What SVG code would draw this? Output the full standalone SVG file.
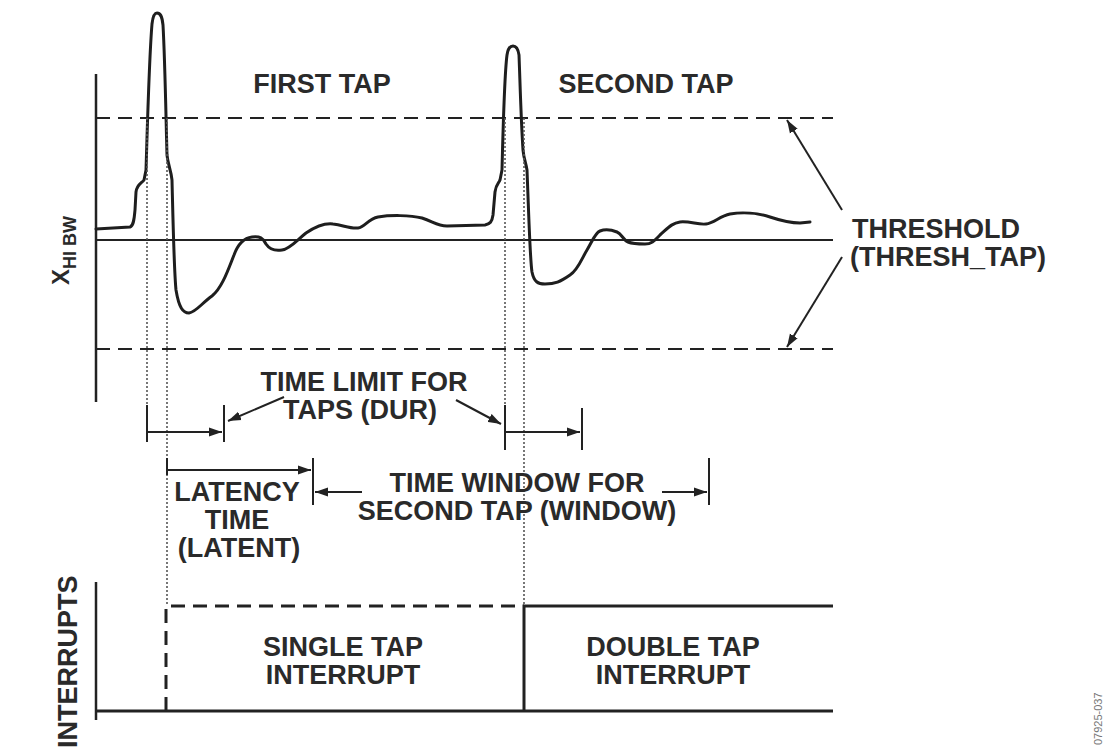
<svg xmlns="http://www.w3.org/2000/svg" width="1112" height="750" viewBox="0 0 1112 750">
<defs>
<marker id="ah" markerUnits="userSpaceOnUse" markerWidth="14" markerHeight="10" refX="13" refY="5" orient="auto">
<path d="M0,0.5 L13,5 L0,9.5 Z" fill="#222"/>
</marker>
<style>
.t{font-family:"Liberation Sans",Arial,sans-serif;font-weight:bold;font-size:27px;fill:#2a2a2a}
.ax{stroke:#222;stroke-width:2.5;fill:none}
.thin{stroke:#222;stroke-width:2;fill:none}
.dash{stroke:#222;stroke-width:2.2;stroke-dasharray:14 8;fill:none}
.dot{stroke:#555;stroke-width:1.6;stroke-dasharray:2 2;fill:none}
.wave{stroke:#1e1e1e;stroke-width:3;fill:none;stroke-linejoin:round;stroke-linecap:round}
.arr{stroke:#222;stroke-width:2;fill:none;marker-end:url(#ah)}
.sig{stroke:#222;stroke-width:3;fill:none}
.sigd{stroke:#222;stroke-width:3;stroke-dasharray:14 8;fill:none}
</style>
</defs>
<rect width="1112" height="750" fill="#fff"/>

<g id="axes">
<line class="ax" x1="96" y1="74" x2="96" y2="402"/>
<line class="thin" x1="96" y1="240" x2="833" y2="240"/>
<line class="dash" x1="96" y1="118" x2="833" y2="118"/>
<line class="dash" x1="96" y1="349" x2="833" y2="349"/>
<line class="ax" x1="96" y1="582" x2="96" y2="720"/>
</g>

<g id="waveform">
<path class="wave" d="M96,229 L130,227 C133,226 134,222 135,210 L136,192 C137,184 142,183 144,180 L146,170 C147,140 149,60 152,24 C153,15 155,13 157,13 C160,13 162,15 163,25 C165,60 166,120 167,155 C168,165 171,170 172,180 C173,220 174,270 176,290 C179,308 183,313 189,313 C196,312 202,303 212,296 C222,288 228,270 234,255 C238,244 244,238 252,237 C260,236 263,238 266,244 C270,250 276,251 282,250 C290,249 297,240 306,233 C315,227 325,223 333,224 C343,225 350,229 358,228 C365,227 368,219 378,217 C390,215 410,215 422,218 C434,222 437,226 447,226 L485,225 C490,224 492,222 493,215 L495,192 C496,184 499,183 500,180 L502,170 C503,130 505,70 507,55 C508,48 510,46 513,46 C516,46 518,48 519,55 C520,80 521,120 523,150 C524,160 526,163 527,170 C529,220 530,260 532,272 C534,282 538,284 545,284 C555,284 560,282 570,275 C578,270 582,258 587,250 C592,242 595,233 600,231 C605,229 612,230 617,232 C622,234 623,240 628,242 C633,244 640,244 645,244 C652,244 655,240 660,235 C668,228 672,223 680,222 C690,221 698,225 706,224 C714,223 720,216 730,214 C742,212 758,213 770,217 C782,221 790,223 800,223 L810,222"/>
</g>

<g id="markers">
<line class="dot" x1="147" y1="118" x2="147" y2="405"/>
<line class="dot" x1="167" y1="118" x2="167" y2="606"/>
<line class="dot" x1="505" y1="118" x2="505" y2="405"/>
<line class="dot" x1="524" y1="118" x2="524" y2="606"/>
</g>

<g id="connectors">
<line class="arr" x1="842" y1="210" x2="787" y2="120"/>
<line class="arr" x1="842" y1="257" x2="787" y2="347"/>
<line class="thin" x1="147" y1="405" x2="147" y2="442"/>
<line class="thin" x1="224" y1="405" x2="224" y2="442"/>
<line class="arr" x1="147" y1="432" x2="222" y2="432"/>
<line class="thin" x1="505" y1="405" x2="505" y2="450"/>
<line class="thin" x1="582" y1="408" x2="582" y2="450"/>
<line class="arr" x1="505" y1="432" x2="580" y2="432"/>
<line class="arr" x1="284" y1="397" x2="228" y2="421"/>
<line class="arr" x1="456" y1="400" x2="501" y2="424"/>
<line class="thin" x1="167" y1="458" x2="167" y2="475"/>
<line class="arr" x1="167" y1="470" x2="311" y2="470"/>
<line class="thin" x1="313" y1="458" x2="313" y2="505"/>
<line class="arr" x1="362" y1="492" x2="315" y2="492"/>
<line class="arr" x1="662" y1="492" x2="707" y2="492"/>
<line class="thin" x1="709" y1="458" x2="709" y2="505"/>
</g>

<g id="interrupts">
<line class="sig" x1="96" y1="711" x2="833" y2="711"/>
<polyline class="sigd" points="166,711 166,606 524,606"/>
<polyline class="sig" points="524,711 524,606 833,606"/>
</g>

<g id="labels">
<text class="t" x="322" y="93" text-anchor="middle">FIRST TAP</text>
<text class="t" x="646" y="93" text-anchor="middle">SECOND TAP</text>
<text class="t" x="852" y="238">THRESHOLD</text>
<text class="t" x="850" y="266">(THRESH_TAP)</text>
<text class="t" x="364" y="391" text-anchor="middle">TIME LIMIT FOR</text>
<text class="t" x="360" y="419" text-anchor="middle">TAPS (DUR)</text>
<text class="t" x="237" y="501" text-anchor="middle">LATENCY</text>
<text class="t" x="237" y="529" text-anchor="middle">TIME</text>
<text class="t" x="239" y="557" text-anchor="middle">(LATENT)</text>
<text class="t" x="517" y="492" text-anchor="middle">TIME WINDOW FOR</text>
<text class="t" x="517" y="520" text-anchor="middle">SECOND TAP (WINDOW)</text>
<text class="t" x="343" y="656" text-anchor="middle">SINGLE TAP</text>
<text class="t" x="343" y="684" text-anchor="middle">INTERRUPT</text>
<text class="t" x="673" y="656" text-anchor="middle">DOUBLE TAP</text>
<text class="t" x="673" y="684" text-anchor="middle">INTERRUPT</text>
<text class="t" transform="translate(77,748) rotate(-90)">INTERRUPTS</text>
<text class="t" transform="translate(69,285) rotate(-90)" style="font-size:24px">X<tspan dy="7" style="font-size:18px">HI BW</tspan></text>
<text transform="translate(1102,745) rotate(-90)" style="font-family:'Liberation Sans',Arial,sans-serif;font-size:11px;fill:#777">07925-037</text>
</g>
</svg>
